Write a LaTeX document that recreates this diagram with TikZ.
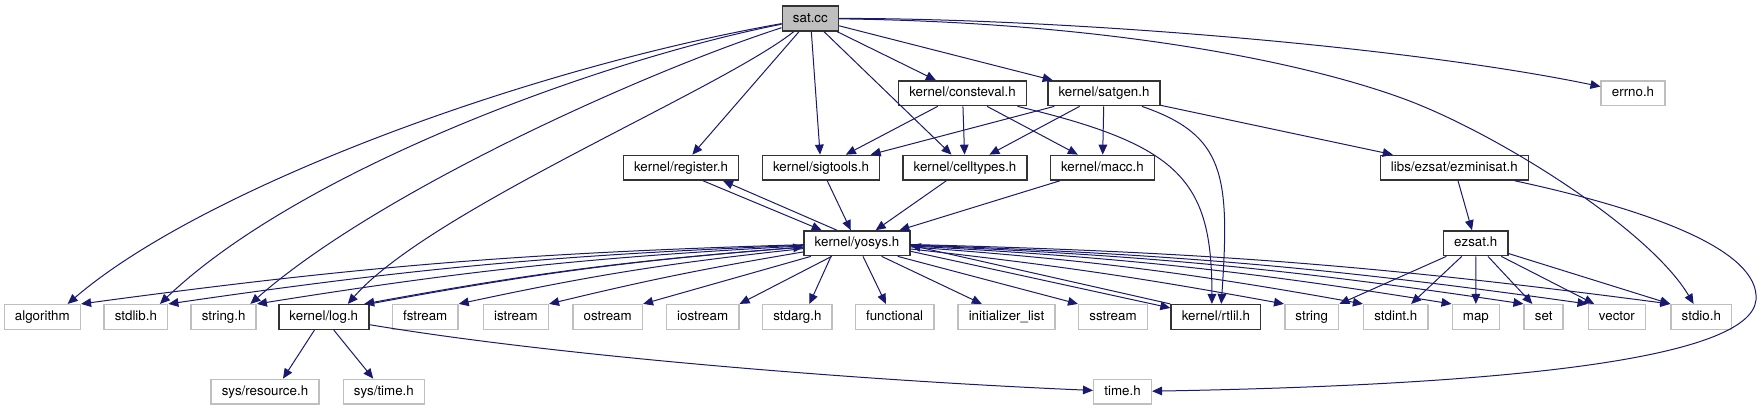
\documentclass[tikz,border=0pt]{standalone}
\usepackage{fontspec}
\setmainfont{TeX Gyre Heros}
\usepackage{tikz}
\usetikzlibrary{arrows.meta}

\definecolor{depblue}{HTML}{191970}
\definecolor{grey75}{HTML}{BFBFBF}

\begin{document}
\begin{tikzpicture}[
    x=0.75pt, y=-0.75pt,
    file/.style={rectangle, draw=black!80, line width=1.1pt, fill=white, inner xsep=8pt, inner ysep=0pt, minimum height=18.5pt, text height=7.4pt, text depth=1.9pt, font=\fontsize{10}{12}\selectfont},
    sysfile/.style={file, draw=grey75},
    mainfile/.style={file, fill=grey75},
    dep/.style={-{Triangle[length=7.5pt, width=6.5pt]}, depblue, line width=0.75pt},
]
\useasboundingbox (0,0) rectangle (1764,411);

% top rows
\node[mainfile] (satcc) at (810.4,18.5) {sat.cc};
\node[file] (consteval) at (962.5,93.3) {kernel/consteval.h};
\node[file] (satgen) at (1104,93.3) {kernel/satgen.h};
\node[sysfile] (errno) at (1633,93.3) {errno.h};
\node[file] (register) at (681,167.7) {kernel/register.h};
\node[file] (sigtools) at (821,167.7) {kernel/sigtools.h};
\node[file] (celltypes) at (965,167.7) {kernel/celltypes.h};
\node[file] (macc) at (1102.4,167.7) {kernel/macc.h};
\node[file] (ezminisat) at (1454.3,167.7) {libs/ezsat/ezminisat.h};
\node[file] (yosys) at (857,243.3) {kernel/yosys.h};
\node[file] (ezsat) at (1475.7,243.3) {ezsat.h};

% header row
\node[sysfile] (algorithm) at (42.3,317) {algorithm};
\node[sysfile] (stdlib) at (135.9,317) {stdlib.h};
\node[sysfile] (stringh) at (223.7,317) {string.h};
\node[file] (log) at (323.8,317) {kernel/log.h};
\node[sysfile] (fstream) at (425.2,317) {fstream};
\node[sysfile] (istream) at (515.9,317) {istream};
\node[sysfile] (ostream) at (607.7,317) {ostream};
\node[sysfile] (iostream) at (702.7,317) {iostream};
\node[sysfile] (stdarg) at (797.4,317) {stdarg.h};
\node[sysfile] (functional) at (894.6,317) {functional};
\node[sysfile] (initlist) at (1006.5,317) {initializer\_list};
\node[sysfile] (sstream) at (1113,317) {sstream};
\node[file] (rtlil) at (1215.9,317) {kernel/rtlil.h};
\node[sysfile] (string) at (1311.7,317) {string};
\node[sysfile] (stdint) at (1395.8,317) {stdint.h};
\node[sysfile] (map) at (1475.9,317) {map};
\node[sysfile] (set) at (1543.7,317) {set};
\node[sysfile] (vector) at (1616.9,317) {vector};
\node[sysfile] (stdio) at (1701.3,317) {stdio.h};

% bottom row
\node[sysfile] (resource) at (265,391.7) {sys/resource.h};
\node[sysfile] (systime) at (383.9,391.7) {sys/time.h};
\node[sysfile] (timeh) at (1122.5,391.7) {time.h};

% sat.cc
\draw[dep] (satcc) .. controls (520,70) and (200,190) .. ([xshift=19pt]algorithm.north);
\draw[dep] (satcc) .. controls (600,60) and (300,170) .. ([xshift=18pt]stdlib.north);
\draw[dep] (satcc) .. controls (650,70) and (380,190) .. ([xshift=20pt]stringh.north);
\draw[dep] (satcc) .. controls (720,90) and (430,210) .. ([xshift=18pt]log.north);
\draw[dep] (satcc) -- (register);
\draw[dep] (satcc) -- (sigtools);
\draw[dep] (satcc) -- (celltypes);
\draw[dep] (satcc) -- (consteval);
\draw[dep] (satcc) -- (satgen);
\draw[dep] (satcc) .. controls (1050,18) and (1400,45) .. (errno);
\draw[dep] (satcc) .. controls (1100,22) and (1300,60) .. (1407,100) .. controls (1500,135) and (1650,230) .. (stdio);

% consteval / satgen
\draw[dep] (consteval) -- (sigtools);
\draw[dep] (consteval) -- (celltypes);
\draw[dep] (consteval) -- (macc);
\draw[dep] (consteval) .. controls (1180,145) and (1212,180) .. ([xshift=-3pt]rtlil.north);
\draw[dep] (satgen) -- (sigtools);
\draw[dep] (satgen) -- (celltypes);
\draw[dep] (satgen) -- (macc);
\draw[dep] (satgen) .. controls (1225,135) and (1230,175) .. ([xshift=4pt]rtlil.north);
\draw[dep] (satgen) -- (ezminisat);

% into kernel/yosys.h
\draw[dep] ([xshift=16.5pt]register.south) -- ([xshift=-26.5pt]yosys.north);
\draw[dep] ([xshift=-15pt]yosys.north) -- ([xshift=31.5pt]register.south);
\draw[dep] (sigtools) -- (yosys);
\draw[dep] (celltypes) -- (yosys);
\draw[dep] (macc) -- (yosys);
\draw[dep] (ezminisat) -- (ezsat);
\draw[dep] (ezminisat) .. controls (1650,210) and (1760,250) .. (1756,300) .. controls (1750,360) and (1500,385) .. (timeh);

% kernel/yosys.h
\draw[dep] (yosys) to[bend right=3] (algorithm.north east);
\draw[dep] (yosys) to[bend right=3] (stdlib.north east);
\draw[dep] (yosys) to[bend right=3] (stringh.north east);
\draw[dep] (yosys) to[bend right=3] ([xshift=-4pt]log.north east);
\draw[dep] (log.north east) to[bend left=3] (yosys);
\draw[dep] (yosys) to[bend right=3] (fstream.north east);
\draw[dep] (yosys) to[bend right=2] (istream.north east);
\draw[dep] (yosys) -- (ostream.north east);
\draw[dep] (yosys) -- (iostream.north east);
\draw[dep] ([xshift=-19.5pt]yosys.south) -- ([xshift=9pt]stdarg.north);
\draw[dep] ([xshift=4.5pt]yosys.south) -- ([xshift=-6.5pt]functional.north);
\draw[dep] ([xshift=18.5pt]yosys.south) -- ([xshift=-18.5pt]initlist.north);
\draw[dep] ([xshift=30.5pt]yosys.south) -- (sstream.north west);
\draw[dep] ([yshift=-6pt]yosys.east) -- ([yshift=-3pt]rtlil.north west);
\draw[dep] (rtlil.north west) -- ([yshift=-1.5pt]yosys.east);
\draw[dep] (yosys) to[bend left=2] (string.north west);
\draw[dep] (yosys) to[bend left=3] (stdint.north west);
\draw[dep] (yosys) to[bend left=3] (map.north west);
\draw[dep] (yosys) to[bend left=3] (set.north west);
\draw[dep] (yosys) to[bend left=3] (vector.north west);
\draw[dep] (yosys) to[bend left=3] (stdio.north west);

% ezsat.h
\draw[dep] (ezsat) -- (string.north east);
\draw[dep] (ezsat) -- ([xshift=11.5pt]stdint.north);
\draw[dep] (ezsat) -- (map);
\draw[dep] (ezsat) -- ([xshift=-8.5pt]set.north);
\draw[dep] (ezsat) -- ([xshift=5pt]vector.north west);
\draw[dep] (ezsat) -- (stdio.north west);

% kernel/log.h
\draw[dep] ([xshift=-7pt]log.south) -- ([xshift=13.5pt]resource.north);
\draw[dep] ([xshift=7.5pt]log.south) -- ([xshift=-8pt]systime.north);
\draw[dep] (log) .. controls (550,355) and (850,380) .. (timeh);
\end{tikzpicture}
\end{document}
